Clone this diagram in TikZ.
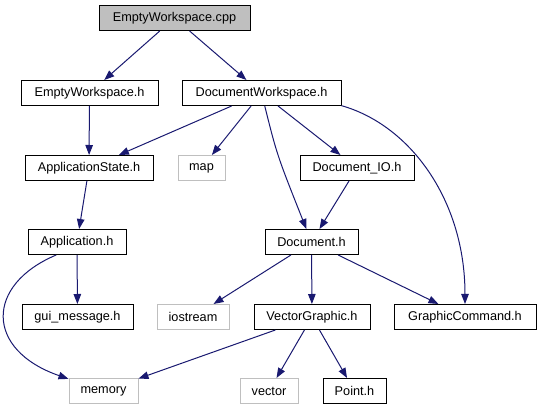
\documentclass[tikz,border=0pt]{standalone}
\usepackage{fontspec}
\setmainfont{Liberation Sans}
\usetikzlibrary{arrows.meta}
\definecolor{edgecol}{HTML}{191970}
\definecolor{sysgray}{HTML}{BFBFBF}
\begin{document}
\begin{tikzpicture}[x=1pt,y=-1pt,
  box/.style={draw=black, line width=1pt, rectangle, minimum height=25pt,
              inner sep=0pt, fill=white, font=\fontsize{12.7}{15}\selectfont},
  sys/.style={box, draw=sysgray},
  dep/.style={draw=edgecol, line width=1pt, -{Triangle[length=10pt,width=7.5pt]}}]
\useasboundingbox (0,0) rectangle (539,411);

% row 1
\node[box, fill=sysgray, minimum width=151pt] (ecpp) at (174.5,18) {EmptyWorkspace.cpp};
% row 2
\node[box, minimum width=137pt] (eh) at (89.5,93) {EmptyWorkspace.h};
\node[box, minimum width=159pt] (dw) at (261.5,93) {DocumentWorkspace.h};
% row 3
\node[box, minimum width=128pt] (as) at (89,168) {ApplicationState.h};
\node[sys, minimum width=47pt] (map) at (201.5,168) {map};
\node[box, minimum width=114pt] (dio) at (357,168) {Document\_IO.h};
% row 4
\node[box, minimum width=98pt] (app) at (77,242) {Application.h};
\node[box, minimum width=93pt] (doc) at (311.5,242) {Document.h};
% row 5
\node[box, minimum width=111pt] (gui) at (77.5,317) {gui\_message.h};
\node[sys, minimum width=72pt] (ios) at (193,317) {iostream};
\node[box, minimum width=116pt] (vg) at (312,317) {VectorGraphic.h};
\node[box, minimum width=142pt] (gc) at (465,317) {GraphicCommand.h};
% row 6
\node[sys, minimum width=69pt] (mem) at (103.5,391) {memory};
\node[sys, minimum width=58pt] (vec) at (269,391) {vector};
\node[box, minimum width=63pt] (pt) at (354.5,391) {Point.h};

% edges
\draw[dep] (ecpp) -- (eh);
\draw[dep] (ecpp) -- (dw);
\draw[dep] (eh) -- (as);
\draw[dep] (dw) -- (as);
\draw[dep] (dw) -- (map);
\draw[dep] (dw) .. controls (277,155) .. (doc);
\draw[dep] (dw) -- (dio);
\draw[dep] (dw.-9) .. controls (410,125) and (465,200) .. (gc);
\draw[dep] (dio) -- (doc);
\draw[dep] (as) -- (app);
\draw[dep] (app) -- (gui);
\draw[dep] (app.212) .. controls (-15,285) and (-15,350) .. (mem);
\draw[dep] (doc) -- (ios);
\draw[dep] (doc) -- (vg);
\draw[dep] (doc) -- (gc);
\draw[dep] (vg) -- (mem);
\draw[dep] (vg) -- (vec);
\draw[dep] (vg) -- (pt);
\end{tikzpicture}
\end{document}
